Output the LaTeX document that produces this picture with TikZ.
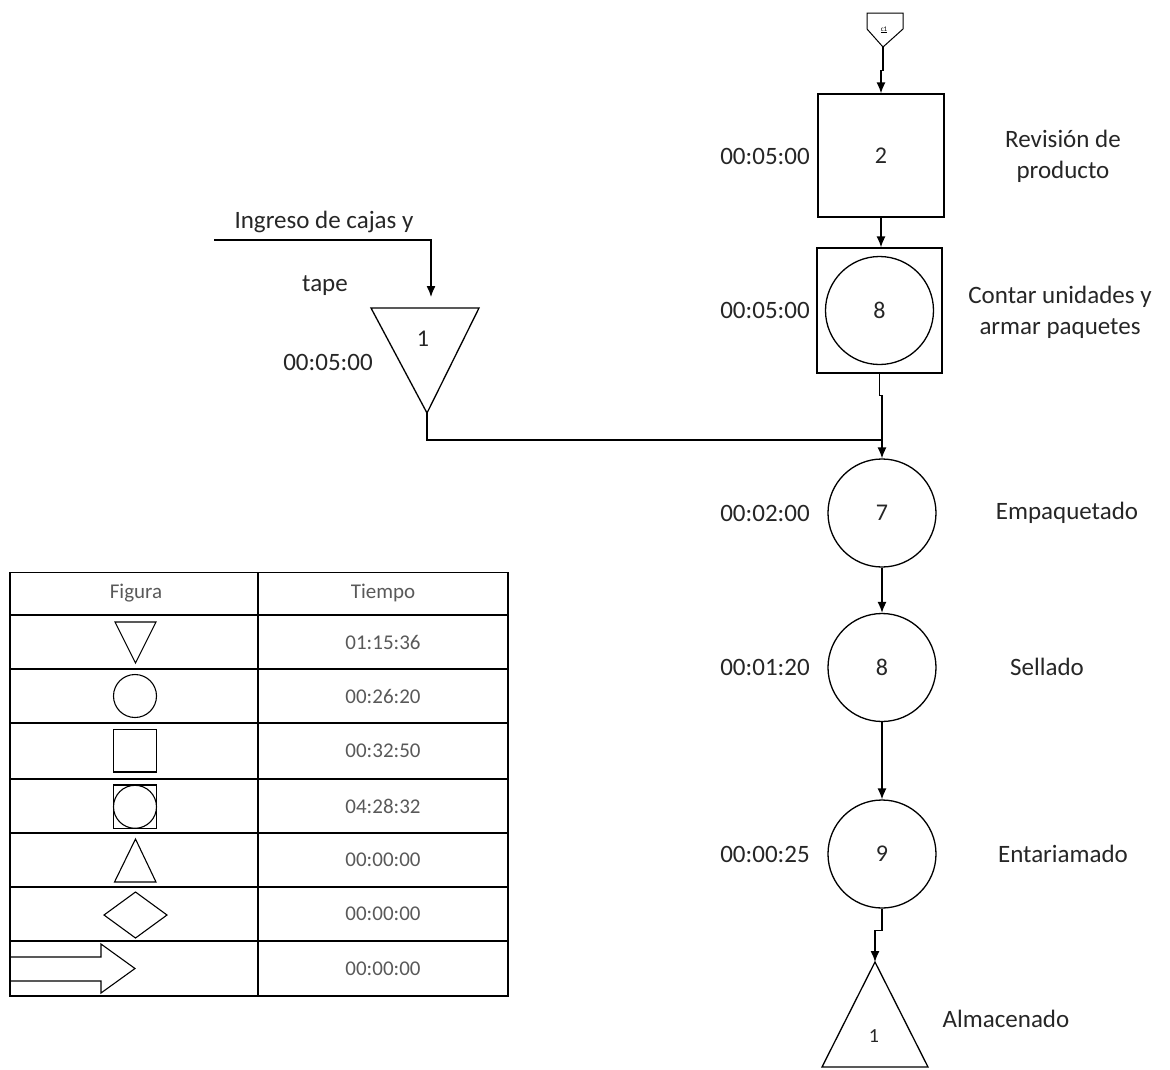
\documentclass[tikz,border=0pt]{standalone}
\usepackage{fontspec}
\setmainfont{Carlito}
\usetikzlibrary{arrows.meta,calc}
\begin{document}
\begin{tikzpicture}[x=1pt,y=-1pt,
  line width=1.3pt,
  flow/.style={-{Latex[length=11pt,width=9pt]}},
  lbl/.style={font=\fontsize{25}{31}\selectfont, text=black!85, align=center, inner sep=0pt},
  num/.style={font=\fontsize{24}{28}\selectfont, text=black!85, inner sep=0pt},
  tlbl/.style={font=\fontsize{21}{25}\selectfont, text=black!65, inner sep=0pt},
  opbox/.style={draw, rectangle, inner sep=0pt},
  opcirc/.style={draw, circle, minimum size=108pt, inner sep=0pt},
  sym/.style={line width=1.1pt}
]
\useasboundingbox (0,0) rectangle (1170,1069);

% ---------- off-page connector at the top ----------
\draw[line width=1pt] (867,13) -- (903,13) -- (903,29) -- (883,47) -- (867,29) -- cycle;
\coordinate (c1) at (883,47);
\node[inner sep=0pt, font=\fontsize{7}{7}\selectfont] (c1txt) at (884,30) {\underline{c1}};

% ---------- main column ----------
\node[opbox, minimum width=126pt, minimum height=123pt] (box2) at (881,155.5) {};
\node[num] (n2) at (box2.center) {2};

\node[opbox, minimum size=125pt] (boxc) at (879.5,310.5) {};
\node[opcirc] (boxcc) at (boxc.center) {};
\node[num] (n8a) at (boxc.center) {8};

\node[opcirc] (c7) at (882,513) {};
\node[num] (n7) at (c7.center) {7};
\node[opcirc] (c8) at (882,667.5) {};
\node[num] (n8b) at (c8.center) {8};
\node[opcirc] (c9) at (882,854) {};
\node[num] (n9) at (c9.center) {9};

% storage triangle
\draw (875,962) -- (928,1067) -- (822,1067) -- cycle;
\coordinate (t2) at (875,962);
\node[inner sep=0pt, font=\fontsize{20}{24}\selectfont, text=black!85] (n1b) at (874,1036) {1};

% inbound triangle (inverted)
\draw (371,308) -- (479,308) -- (427,413) -- cycle;
\coordinate (t1) at (427,413);
\coordinate (t1top) at (431,297);
\node[num] (n1a) at (423,339) {1};

% ---------- connectors ----------
\coordinate (in0) at (214,240);
\coordinate (join) at (882,440);
\draw[flow] (in0) -| (t1top);
\draw[flow] (c1) |- ($(c1)!0.5!(box2.north)$) -| (box2.north);
\draw[flow] (box2.south) -- (box2.south |- boxc.north);
\draw[flow] (boxc.south) -- ++(0,22) -| (c7.north);
\draw (t1) |- (join);
\draw[flow] (c7.south) -- (c8.north);
\draw[flow] (c8.south) -- (c9.north);
\draw[flow] (c9.south) -- ++(0,22) -| (t2);

% ---------- labels ----------
\node[lbl] (tm2) at (765,156) {00:05:00};
\node[lbl] (tm8a) at (765,310) {00:05:00};
\node[lbl] (tm7) at (765,513) {00:02:00};
\node[lbl] (tm8b) at (765,667) {00:01:20};
\node[lbl] (tm9) at (765,854) {00:00:25};
\node[lbl] (tm1) at (328,362) {00:05:00};

\node[lbl] (d2) at (1063,156) {Revisión de\\producto};
\node[lbl] (d8a) at (1060,312) {Contar unidades y\\armar paquetes};
\node[lbl] (d7) at (1067,513) {Empaquetado};
\node[lbl] (d8b) at (1047,667) {Sellado};
\node[lbl] (d9) at (1063,854) {Entariamado};
\node[lbl] (dalm) at (1006,1019) {Almacenado};
\node[lbl] (din1) at (324,222) {Ingreso de cajas y};
\node[lbl] (din2) at (325,286) {tape};

% ---------- summary table ----------
\draw (10,572.5) rectangle (508,996);
\draw (258,572.5) -- (258,996);
\foreach \yy in {615,669,833,887,941} \draw (10,\yy) -- (508,\yy);
\foreach \yy in {723,779} \draw[line width=2pt] (10,\yy) -- (508,\yy);

\node[tlbl] (hf) at (136,593) {Figura};
\node[tlbl] (ht) at (383,593) {Tiempo};
\node[tlbl] (r1) at (383,642) {01:15:36};
\node[tlbl] (r2) at (383,696) {00:26:20};
\node[tlbl] (r3) at (383,751) {00:32:50};
\node[tlbl] (r4) at (383,806) {04:28:32};
\node[tlbl] (r5) at (383,860) {00:00:00};
\node[tlbl] (r6) at (383,914) {00:00:00};
\node[tlbl] (r7) at (383,968.5) {00:00:00};

% figure column symbols
\draw[sym] (115,622) -- (156,622) -- (135.5,663) -- cycle;
\draw[sym] (135,696) circle (21.5);
\draw[sym] (113.5,729.5) rectangle (156.5,772);
\draw[sym] (113.5,785) rectangle (156.5,828.5);
\draw[sym] (135,806.8) circle (21.5);
\draw[sym] (135.5,839) -- (156,882) -- (114.5,882) -- cycle;
\draw[sym] (104,915) -- (135.5,892) -- (167,915) -- (135.5,938) -- cycle;
\draw[sym] (10,957) -- (101,957) -- (101,944) -- (135,968.5) -- (101,993) -- (101,981) -- (10,981);
\end{tikzpicture}
\end{document}
